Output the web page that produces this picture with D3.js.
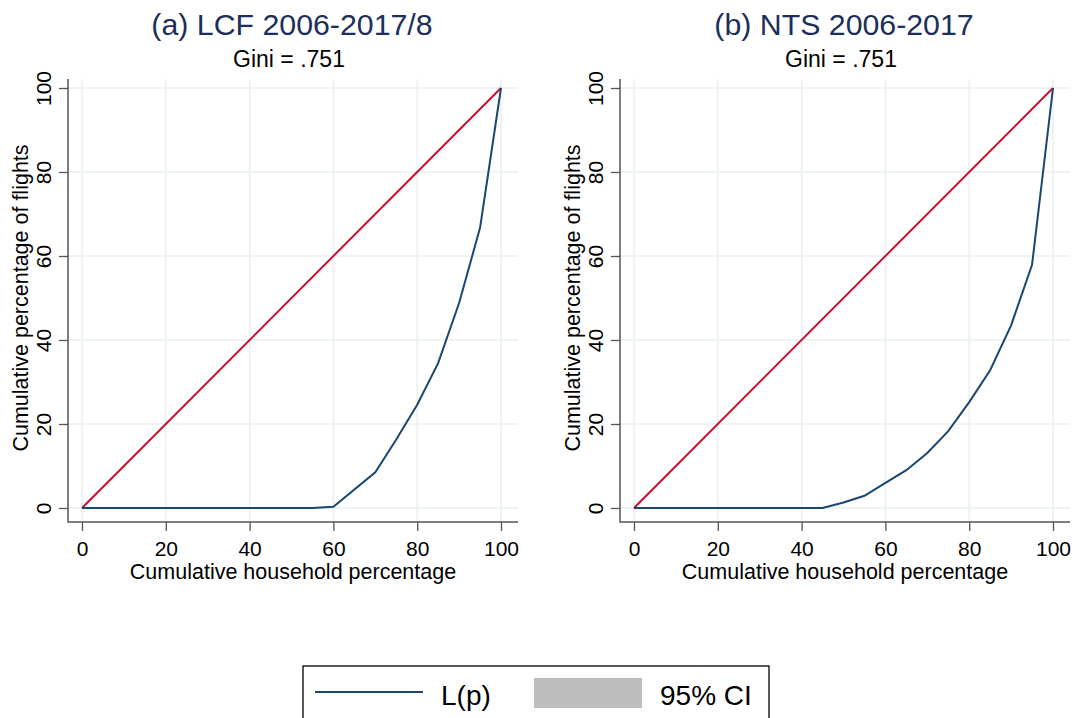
<!DOCTYPE html>
<html>
<head>
<meta charset="utf-8">
<script src="https://cdn.jsdelivr.net/npm/d3@7"></script>
<style>
  body { margin: 0; background: #fff; }
  svg { display: block; font-family: "Liberation Sans", Arial, sans-serif; }
</style>
</head>
<body>
<svg id="chart" width="1076" height="718"></svg>
<script>
// cumulative household percentage (x) and cumulative share of flights L(p)
var pctA = [0, 5, 10, 15, 20, 25, 30, 35, 40, 45, 50, 55, 60, 70, 75, 80, 85, 90, 95, 100];
var lorenzA = [0, 0, 0, 0, 0, 0, 0, 0, 0, 0, 0, 0, 0.3, 8.5, 16.3, 24.6, 34.5, 48.8, 66.7, 100];

var pctB = [0, 5, 10, 15, 20, 25, 30, 35, 40, 45, 50, 55, 60, 65, 70, 75, 80, 85, 90, 95, 100];
var lorenzB = [0, 0, 0, 0, 0, 0, 0, 0, 0, 0, 1.3, 2.9, 6.0, 9.0, 13.1, 18.3, 25.2, 32.8, 43.5, 57.9, 100];

var equality = [0, 100];
var ticks = [0, 20, 40, 60, 80, 100];

var panels = [
  { title: '(a) LCF 2006-2017/8', sub: 'Gini = .751', left: 68, pct: pctA, lorenz: lorenzA },
  { title: '(b) NTS 2006-2017', sub: 'Gini = .751', left: 620, pct: pctB, lorenz: lorenzB }
];

var navy = '#1a4670', red = '#c8102e', grid = '#e9f0f3', axisCol = '#555';
var svg = d3.select('#chart');

panels.forEach(function (p) {
  var left = p.left, right = left + 450, top = 79, bottom = 522;
  var x = d3.scaleLinear().domain([0, 100]).range([left + 14, left + 433]);
  var y = d3.scaleLinear().domain([0, 100]).range([508, 88]);
  var cx = (left + right) / 2;
  var g = svg.append('g');

  // gridlines
  g.selectAll('.vg').data(ticks).enter().append('line')
    .attr('x1', function (d) { return x(d); }).attr('x2', function (d) { return x(d); })
    .attr('y1', top).attr('y2', bottom)
    .attr('stroke', grid).attr('stroke-width', 1.5);
  g.selectAll('.hg').data(ticks).enter().append('line')
    .attr('x1', left).attr('x2', right)
    .attr('y1', function (d) { return y(d); }).attr('y2', function (d) { return y(d); })
    .attr('stroke', grid).attr('stroke-width', 1.5);

  // axes
  var xa = g.append('g').attr('transform', 'translate(0,' + bottom + ')')
    .call(d3.axisBottom(x).tickValues(ticks).tickSize(9).tickPadding(5));
  var ya = g.append('g').attr('transform', 'translate(' + left + ',0)')
    .call(d3.axisLeft(y).tickValues(ticks).tickSize(9).tickPadding(5));
  [xa, ya].forEach(function (a) {
    a.select('.domain').remove();
    a.selectAll('line').attr('stroke', axisCol).attr('stroke-width', 1.3);
    a.selectAll('text').attr('fill', '#000').style('font-size', '21px')
      .style('font-family', '"Liberation Sans", Arial, sans-serif');
  });
  xa.selectAll('text').attr('dy', '0.95em');
  ya.selectAll('text')
    .attr('x', null).attr('dy', null)
    .attr('text-anchor', 'middle')
    .attr('transform', 'translate(-17,0) rotate(-90)');

  g.append('line').attr('x1', left).attr('x2', left).attr('y1', top).attr('y2', bottom + 0.6)
    .attr('stroke', axisCol).attr('stroke-width', 1.5);
  g.append('line').attr('x1', left).attr('x2', right).attr('y1', bottom).attr('y2', bottom)
    .attr('stroke', axisCol).attr('stroke-width', 1.5);

  // axis titles
  g.append('text').attr('x', cx).attr('y', 579).attr('text-anchor', 'middle')
    .style('font-size', '21.5px').text('Cumulative household percentage');
  g.append('text').attr('transform', 'translate(' + (left - 40) + ',' + y(50) + ') rotate(-90)')
    .attr('text-anchor', 'middle').style('font-size', '21.5px')
    .text('Cumulative percentage of flights');

  // titles
  g.append('text').attr('x', cx - 1).attr('y', 35).attr('text-anchor', 'middle')
    .attr('fill', '#1c2f5a').style('font-size', '30.3px').text(p.title);
  g.append('text').attr('x', cx - 4).attr('y', 67).attr('text-anchor', 'middle')
    .style('font-size', '23px').text(p.sub);

  // line of equality and Lorenz curve
  var line = d3.line().x(function (d) { return x(d[0]); }).y(function (d) { return y(d[1]); });
  g.append('path').datum(equality.map(function (v) { return [v, v]; }))
    .attr('d', line).attr('fill', 'none').attr('stroke', red).attr('stroke-width', 2);
  g.append('path').datum(p.pct.map(function (v, i) { return [v, p.lorenz[i]]; }))
    .attr('d', line).attr('fill', 'none').attr('stroke', navy).attr('stroke-width', 2);
});

// legend
var lg = svg.append('g');
lg.append('rect').attr('x', 303).attr('y', 666).attr('width', 466).attr('height', 70)
  .attr('fill', '#fff').attr('stroke', '#000').attr('stroke-width', 1.3);
lg.append('line').attr('x1', 315).attr('x2', 423).attr('y1', 692).attr('y2', 692)
  .attr('stroke', navy).attr('stroke-width', 2.2);
lg.append('text').attr('x', 441).attr('y', 705).style('font-size', '28px').text('L(p)');
lg.append('rect').attr('x', 534).attr('y', 678).attr('width', 108).attr('height', 30)
  .attr('fill', '#bebebe');
lg.append('text').attr('x', 660).attr('y', 705).style('font-size', '28px').text('95% CI');
</script>
</body>
</html>
